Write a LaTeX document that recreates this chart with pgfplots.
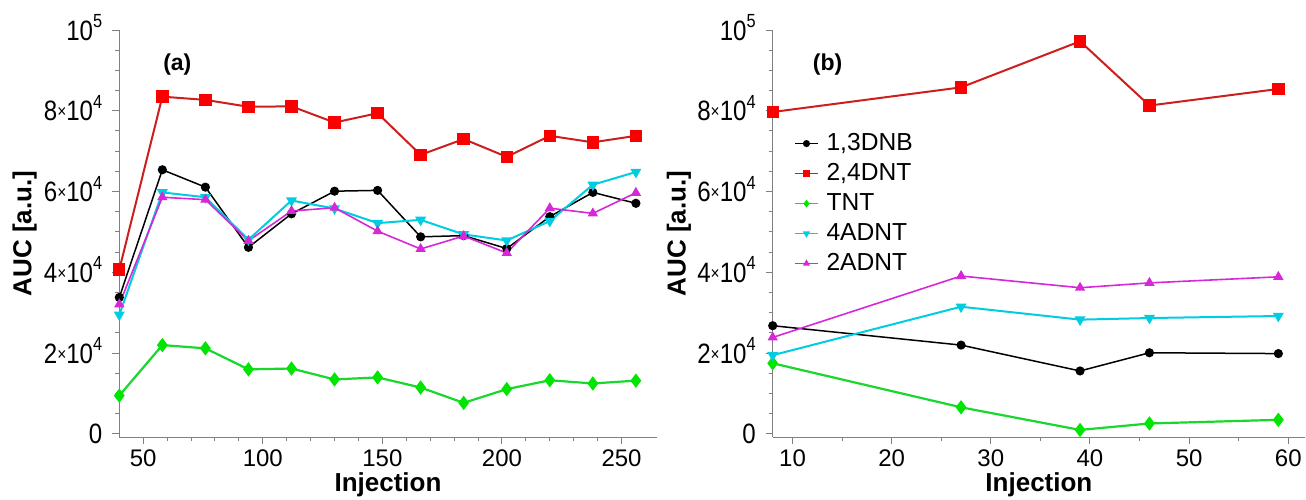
\documentclass[border=0pt]{standalone}
\usepackage{fontspec}
\setmainfont{Liberation Sans}
\newfontfamily\condfont[FakeStretch=0.86]{Liberation Sans}
\usepackage{pgfplots}
\pgfplotsset{compat=1.18}
\definecolor{cblk}{RGB}{0,0,0}
\definecolor{credl}{RGB}{205,30,30}
\definecolor{credm}{RGB}{250,0,0}
\definecolor{cgrn}{RGB}{25,215,45}
\definecolor{cgrnm}{RGB}{0,230,0}
\definecolor{ccyn}{RGB}{0,205,225}
\definecolor{cmag}{RGB}{215,40,215}
\definecolor{caxis}{RGB}{128,128,128}
\newcommand{\tx}{{\fontsize{9}{9}\selectfont\raisebox{0.3ex}{×}}}
\newcommand{\sx}[1]{\raisebox{0.85ex}{\fontsize{9.5}{9.5}\selectfont #1}}
\pgfplotsset{
  myax/.style={
    scale only axis,
    axis lines=left,
    axis line style={-, draw=caxis, line width=0.6pt},
    tick align=outside,
    major tick length=3.5pt, minor tick length=2pt,
    every tick/.style={draw=caxis, line width=0.5pt},
    ymin=-800, ymax=100000,
    ytick={0,20000,40000,60000,80000,100000},
    yticklabels={0,2\tx10\sx{4},4\tx10\sx{4},6\tx10\sx{4},8\tx10\sx{4},10\sx{5}},
    minor y tick num=3,
    scaled y ticks=false, scaled x ticks=false,
    xticklabel style={font=\fontsize{12}{14}\selectfont, yshift=1pt},
    yticklabel style={font=\condfont\fontsize{14}{16}\selectfont, anchor=base east, yshift=-5pt, xshift=-1.5pt},
    /pgf/number format/assume math mode=true,
    xlabel={Injection}, ylabel={AUC [a.u.]},
    label style={font=\fontsize{13}{15}\selectfont\bfseries},
    xlabel style={at={(axis description cs:0.5,0)}, anchor=base, yshift=-27pt},
    ylabel style={at={(axis description cs:-0.176,0.5)}, anchor=center, rotate=0},
    height=203.6pt,
  },
  pdnb/.style={color=cblk, line width=0.75pt, mark=*, mark size=1.9pt, mark options={fill=cblk, draw=cblk}},
  pdnt/.style={color=credl, line width=1pt, mark=square*, mark size=2.6pt, mark options={fill=credm, draw=credm}},
  ptnt/.style={color=cgrn, line width=1.1pt, mark=diamond*, mark size=2.7pt, mark options={fill=cgrnm, draw=cgrnm}},
  p4a/.style={color=ccyn, line width=1pt, mark=triangle*, mark size=2.2pt, mark options={fill=ccyn, draw=ccyn, rotate=180}},
  p2a/.style={color=cmag, line width=0.8pt, mark=triangle*, mark size=2.2pt, mark options={fill=cmag, draw=cmag}},
}
\begin{document}
\begin{tikzpicture}
\useasboundingbox (0,0) rectangle (653pt,249.5pt);
% ---------------- (a) ----------------
\begin{axis}[myax,
  at={(59.65pt,30.9pt)}, anchor=south west,
  width=268.7pt,
  xmin=40, xmax=264.7,
  xtick={50,100,150,200,250}, minor x tick num=4,
]
\addplot[pdnb] coordinates {(40,33800) (58,65400) (76,61100) (94,46200) (112,54500) (130,60100) (148,60300) (166,48800) (184,49100) (202,45900) (220,53800) (238,59800) (256,57100)};
\addplot[pdnt] coordinates {(40,40700) (58,83500) (76,82700) (94,81000) (112,81100) (130,77100) (148,79400) (166,69100) (184,73000) (202,68600) (220,73800) (238,72200) (256,73800)};
\addplot[ptnt] coordinates {(40,9500) (58,22000) (76,21200) (94,16000) (112,16200) (130,13500) (148,14000) (166,11500) (184,7700) (202,11100) (220,13300) (238,12500) (256,13200)};
\addplot[p4a] coordinates {(40,29500) (58,59800) (76,58600) (94,48100) (112,57800) (130,55800) (148,52200) (166,53000) (184,49400) (202,47900) (220,52700) (238,61700) (256,64850)};
\addplot[p2a] coordinates {(40,32100) (58,58600) (76,58000) (94,47800) (112,55200) (130,56000) (148,50200) (166,45800) (184,49000) (202,44800) (220,55900) (238,54600) (256,59700)};
\node[font=\fontsize{11.5}{13}\selectfont\bfseries] at (axis description cs:0.108,0.915) {(a)};
\end{axis}
% ---------------- (b) ----------------
\begin{axis}[myax,
  at={(386.35pt,30.9pt)}, anchor=south west,
  width=266.2pt,
  xmin=8, xmax=61.7,
  xtick={10,20,30,40,50,60}, minor x tick num=1,
  legend style={at={(axis description cs:0.04,0.754)}, anchor=north west, draw=none, fill=none,
    font=\fontsize{12.3}{14}\selectfont, row sep=2pt, inner sep=0pt,
    nodes={inner sep=1pt, text height=9pt, text depth=2pt},
    /tikz/every odd column/.append style={column sep=3pt}},
  legend cell align=left,
  legend image code/.code={\draw[mark repeat=2,mark phase=2,line width=0.7pt,mark size=1.4pt] plot coordinates {(0cm,0cm) (0.2cm,0cm) (0.4cm,0cm)};},
]
\addplot[pdnb] coordinates {(8,26800) (27,22000) (39,15600) (46,20100) (59,19900)};
\addlegendentry{1,3DNB}
\addplot[pdnt] coordinates {(8,79700) (27,85800) (39,97200) (46,81300) (59,85400)};
\addlegendentry{2,4DNT}
\addplot[ptnt] coordinates {(8,17500) (27,6600) (39,1000) (46,2600) (59,3500)};
\addlegendentry{TNT}
\addplot[p4a] coordinates {(8,19500) (27,31500) (39,28300) (46,28700) (59,29200)};
\addlegendentry{4ADNT}
\addplot[p2a] coordinates {(8,23900) (27,39100) (39,36200) (46,37400) (59,38900)};
\addlegendentry{2ADNT}
\node[font=\fontsize{11.5}{13}\selectfont\bfseries] at (axis description cs:0.103,0.915) {(b)};
\end{axis}
\end{tikzpicture}
\end{document}
